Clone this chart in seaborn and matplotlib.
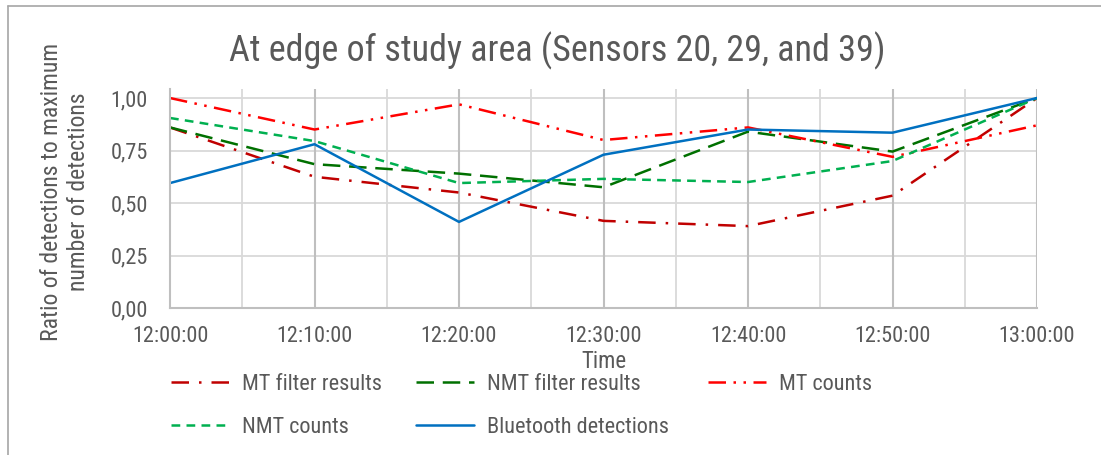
import matplotlib
matplotlib.use("Agg")
import matplotlib.pyplot as plt
from matplotlib.lines import Line2D
from matplotlib import font_manager
import seaborn as sns
import pandas as pd

# ---- data ----
times = ["12:00:00", "12:10:00", "12:20:00", "12:30:00", "12:40:00", "12:50:00", "13:00:00"]
minutes = [0, 10, 20, 30, 40, 50, 60]
mt_filter = [0.86, 0.625, 0.55, 0.415, 0.39, 0.535, 1.00]
nmt_filter = [0.86, 0.685, 0.64, 0.575, 0.84, 0.745, 1.00]
mt_counts = [1.00, 0.85, 0.97, 0.80, 0.86, 0.72, 0.87]
nmt_counts = [0.905, 0.795, 0.595, 0.615, 0.60, 0.70, 1.00]
bluetooth = [0.595, 0.78, 0.41, 0.73, 0.85, 0.835, 1.00]
y_ticks = [0.0, 0.25, 0.5, 0.75, 1.0]
y_tick_labels = ["0,00", "0,25", "0,50", "0,75", "1,00"]

series_names = ["MT filter results", "NMT filter results", "MT counts",
                "NMT counts", "Bluetooth detections"]
series_vals = [mt_filter, nmt_filter, mt_counts, nmt_counts, bluetooth]

rows = []
for name, vals in zip(series_names, series_vals):
    for m, v in zip(minutes, vals):
        rows.append({"minute": m, "ratio": v, "series": name})
df = pd.DataFrame(rows)

palette = {
    "MT filter results": "#C00000",
    "NMT filter results": "#007000",
    "MT counts": "#FF0000",
    "NMT counts": "#00B050",
    "Bluetooth detections": "#0070C0",
}
dashes = {
    "MT filter results": (7, 4, 1, 4),
    "NMT filter results": (7, 3.5),
    "MT counts": (7, 3, 1, 3, 1, 3),
    "NMT counts": (3.5, 2.5),
    "Bluetooth detections": "",
}

sns.set_theme(style="white")
avail = {f.name for f in font_manager.fontManager.ttflist}
fam = "Liberation Sans"
for cand in ["Liberation Sans Narrow", "Arial Narrow", "Roboto Condensed",
             "Archivo Narrow", "PT Sans Narrow", "Pragati Narrow"]:
    if cand in avail:
        fam = cand
        break
narrow = fam != "Liberation Sans"
k = 1.0 if narrow else 0.85
plt.rcParams["font.family"] = [fam, "DejaVu Sans"]

W, H = 1101, 455
fig = plt.figure(figsize=(W / 100, H / 100), dpi=100)
ax = fig.add_axes([170 / W, 1 - 308 / H, (1037 - 170) / W, (308 - 89) / H])

sns.lineplot(data=df, x="minute", y="ratio", hue="series", style="series",
             palette=palette, dashes=dashes, linewidth=1.8, ax=ax,
             legend=False, hue_order=series_names, style_order=series_names)

ax.set_xlim(0, 60)
ax.set_ylim(0, 1.043)
ax.set_xticks(minutes)
ax.set_xticklabels(times)
ax.set_xticks([5, 15, 25, 35, 45, 55], minor=True)
ax.set_yticks(y_ticks)
ax.set_yticklabels(y_tick_labels)

txt = "#595959"
ax.tick_params(axis="both", which="both", length=0, labelsize=16 * k, colors=txt)
ax.tick_params(axis="y", pad=16)
ax.tick_params(axis="x", pad=13)

ax.grid(False)
ax.set_axisbelow(True)
for yv in y_ticks[1:]:
    ax.axhline(yv, color="#d9d9d9", lw=1.3, zorder=0)
for xv in [5, 15, 25, 35, 45, 55]:
    ax.axvline(xv, color="#d9d9d9", lw=1.3, zorder=0)
for xv in minutes[1:]:
    ax.axvline(xv, color="#bfbfbf", lw=1.5, zorder=0)

for s in ["top", "right"]:
    ax.spines[s].set_visible(False)
for s in ["left", "bottom"]:
    ax.spines[s].set_color("#bfbfbf")
    ax.spines[s].set_linewidth(1.5)

ax.set_xlabel("Time", fontsize=16.5 * k, color=txt, labelpad=2)
ax.set_ylabel("")
fig.text(65 / W, 1 - 192 / H, "Ratio of detections to maximum\nnumber of detections",
         rotation=90, ha="center", va="center", multialignment="center",
         fontsize=17 * k, color=txt, linespacing=1.25)

fig.text(557 / W, 1 - 51 / H, "At edge of study area (Sensors 20, 29, and 39)",
         ha="center", va="center", fontsize=26 * k, color=txt)

# legend: three columns placed like the reference
lines = {name: ln for name, ln in zip(series_names, ax.get_lines())}


def make_handle(name):
    ln = lines[name]
    h = Line2D([0], [0], color=ln.get_color(), lw=ln.get_linewidth())
    if dashes[name]:
        h.set_dashes(dashes[name])
    return h


columns = [
    (171, ["MT filter results", "NMT counts"]),
    (416, ["NMT filter results", "Bluetooth detections"]),
    (708, ["MT counts"]),
]
for xpix, names in columns:
    leg = fig.legend([make_handle(n) for n in names], names, loc="upper left",
                     bbox_to_anchor=(xpix / W, 1 - 374 / H), ncol=1, frameon=False,
                     fontsize=16 * k, handlelength=2.6, handletextpad=0.6,
                     labelspacing=1.0, borderaxespad=0, borderpad=0)
    for t in leg.get_texts():
        t.set_color(txt)

# chart border
fig.add_artist(Line2D([8 / W, 1], [1 - 6 / H, 1 - 6 / H], color="#a6a6a6", lw=1.2,
                      transform=fig.transFigure))
fig.add_artist(Line2D([8 / W, 8 / W], [0, 1 - 6 / H], color="#a6a6a6", lw=1.2,
                      transform=fig.transFigure))

fig.savefig("out.png", dpi=100)
